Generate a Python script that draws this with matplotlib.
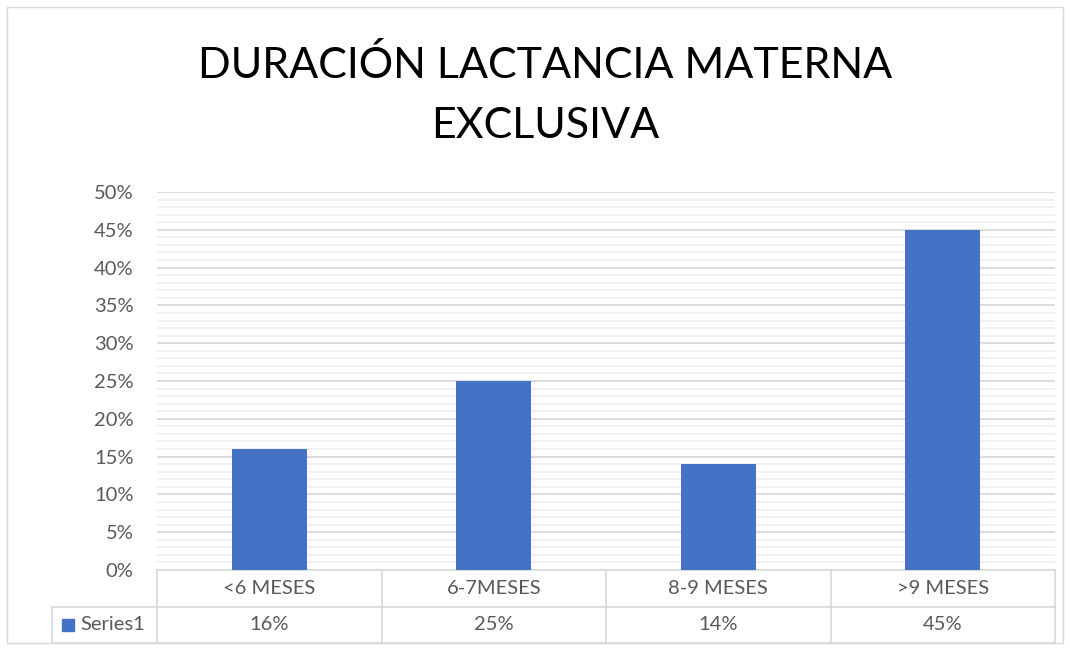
import numpy as np
import matplotlib.pyplot as plt
from matplotlib.patches import Rectangle
from matplotlib.ticker import MultipleLocator, PercentFormatter

categories = ["<6 MESES", "6-7MESES", "8-9 MESES", ">9 MESES"]
values = [16, 25, 14, 45]
series_name = "Series1"
title = "DURACIÓN LACTANCIA MATERNA\nEXCLUSIVA"

W, H = 1070, 650
bar_color = "#4472c4"
text_gray = "#595959"
font = "Lato"
fs = 14.5

fig = plt.figure(figsize=(W / 100, H / 100), dpi=100)

# outer chart border
fig.patches.append(Rectangle((7 / W, 7 / H), (W - 14) / W, (H - 14) / H,
                             transform=fig.transFigure, fill=False,
                             edgecolor="#d9d9d9", lw=1))

left, right, top, bottom = 157, 1055, 192, 570
ax = fig.add_axes([left / W, (H - bottom) / H, (right - left) / W, (bottom - top) / H])

x = np.arange(len(categories))
ax.bar(x, values, width=0.335, color=bar_color, zorder=3)
ax.set_xlim(-0.5, len(categories) - 0.5)
ax.set_ylim(0, 50)

ax.yaxis.set_major_locator(MultipleLocator(5))
ax.yaxis.set_minor_locator(MultipleLocator(1))
ax.yaxis.set_major_formatter(PercentFormatter(decimals=0))
ax.grid(axis="y", which="major", color="#d9d9d9", lw=1.3, zorder=1)
ax.grid(axis="y", which="minor", color="#f0f0f0", lw=1.3, zorder=0)
ax.set_xticks([])
ax.tick_params(axis="y", which="both", length=0, pad=17, labelsize=fs, labelcolor=text_gray)
for lbl in ax.get_yticklabels():
    lbl.set_fontfamily(font)
for s in ax.spines.values():
    s.set_visible(False)

# data table below the axes
row1 = -(607 - bottom) / (bottom - top)
row2 = -(643 - bottom) / (bottom - top)
cat_w = (right - left) / len(categories)
tbl_left = -0.5 - (left - 52) / cat_w
lc = "#d9d9d9"
trans = ax.get_xaxis_transform()
kw = dict(transform=trans, color=lc, lw=1.2, clip_on=False)
ax.plot([-0.5, 3.5], [0, 0], **kw)
ax.plot([tbl_left, 3.5], [row1, row1], **kw)
ax.plot([tbl_left, 3.5], [row2, row2], **kw)
for i in range(len(categories) + 1):
    ax.plot([i - 0.5, i - 0.5], [0, row2], **kw)
ax.plot([tbl_left, tbl_left], [row1, row2], **kw)

for i, (c, v) in enumerate(zip(categories, values)):
    ax.text(i, row1 / 2, c, transform=trans, ha="center", va="center",
            fontsize=fs, color=text_gray, family=font)
    ax.text(i, (row1 + row2) / 2, f"{v}%", transform=trans, ha="center", va="center",
            fontsize=fs, color=text_gray, family=font)

# legend key in the table
key_x = tbl_left + 10 / cat_w
ax.add_patch(Rectangle((key_x, (row1 + row2) / 2 - 6 / (bottom - top)), 12 / cat_w, 12 / (bottom - top),
                       transform=trans, color=bar_color, clip_on=False))
ax.text(key_x + 18 / cat_w, (row1 + row2) / 2, series_name, transform=trans, ha="left", va="center",
        fontsize=fs, color=text_gray, family=font)

fig.text(545 / W, 1 - 95 / H, title, ha="center", va="center", fontsize=31,
         family=font, color="black", linespacing=1.7)

fig.savefig("out.png", dpi=100)
